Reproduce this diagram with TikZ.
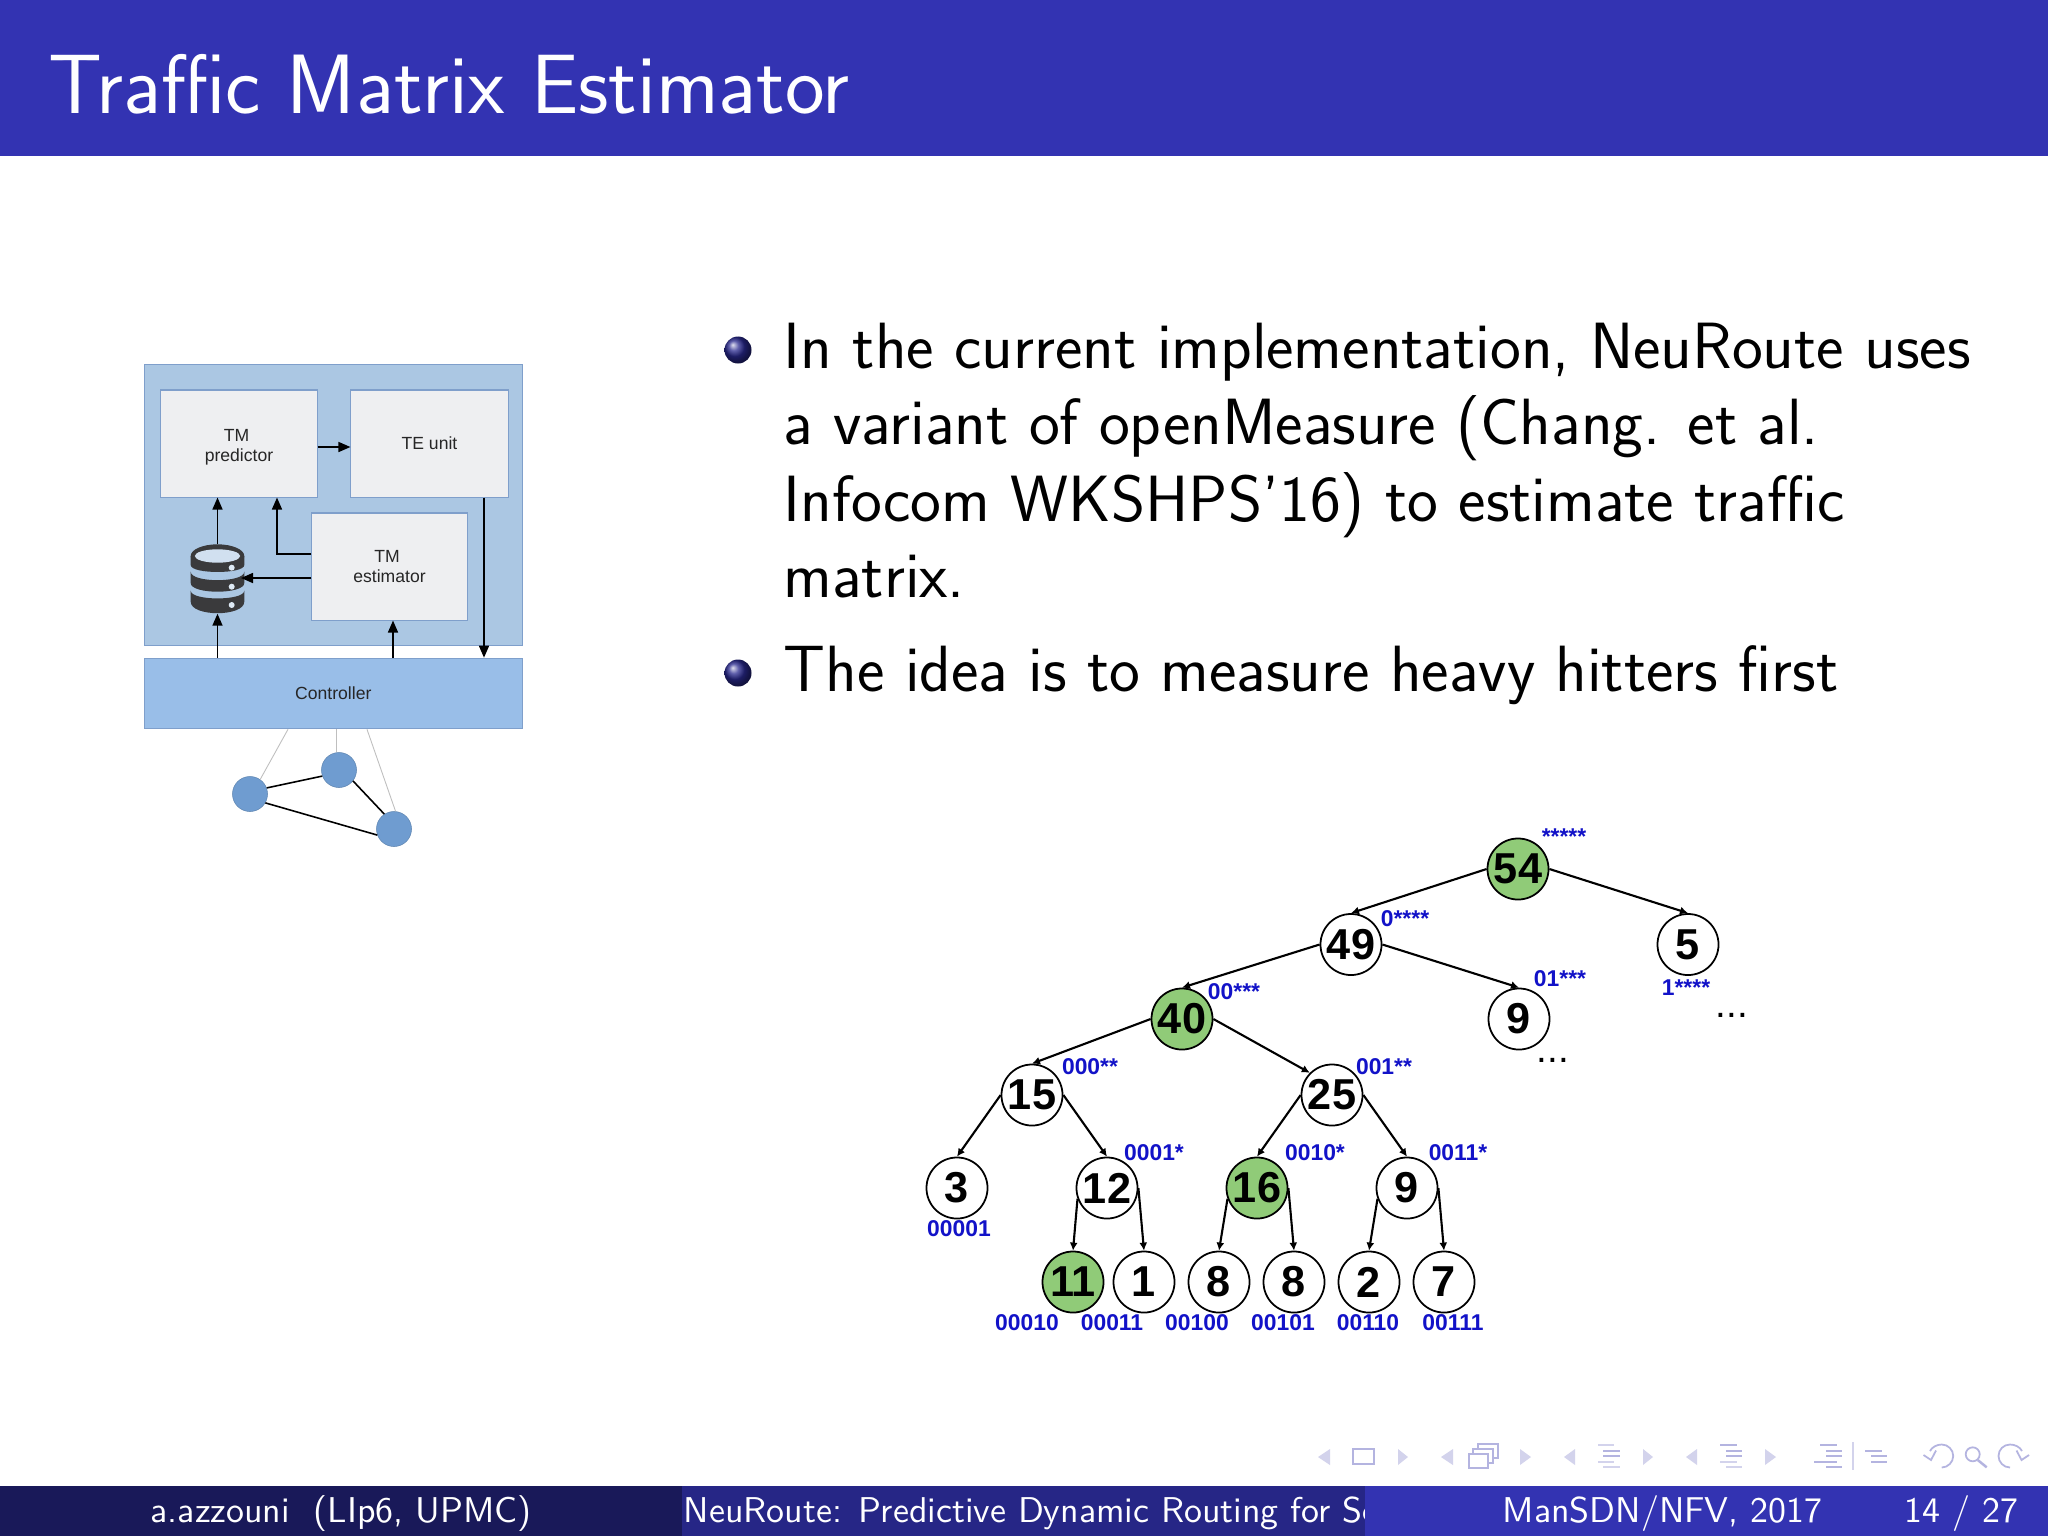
\documentclass[tikz,border=0pt]{standalone}
\usepackage{fontspec}
\usetikzlibrary{arrows.meta,shapes.geometric,calc}
\newfontfamily\arialfont{Liberation Sans}
\definecolor{bhead}{HTML}{3333B2}
\definecolor{bfootA}{HTML}{191959}
\definecolor{bfootB}{HTML}{262686}
\definecolor{outerfill}{HTML}{ABC7E3}
\definecolor{boxline}{HTML}{7F9FCB}
\definecolor{boxfill}{HTML}{EEEFF1}
\definecolor{ctrlfill}{HTML}{99BEE8}
\definecolor{netfill}{HTML}{6F9CD0}
\definecolor{dbdark}{HTML}{3A3A3C}
\definecolor{treegreen}{HTML}{90CB78}
\definecolor{labelblue}{HTML}{1212C8}
\definecolor{navlight}{HTML}{D3D3EC}
\definecolor{navdark}{HTML}{B4B4E0}
\newcommand{\lowered}[1]{\raisebox{-.08cm}[0pt][0pt]{\begin{tabular}{@{}c@{}}#1\end{tabular}}}
\tikzset{
  x=.01cm,y=-.01cm,
  sysbox/.style={draw=boxline,line width=.3pt,fill=boxfill,inner sep=0pt,align=center,font=\arialfont\fontsize{5}{5.7}\selectfont,text=black!85},
  sysarrow/.style={line width=.45pt,-{Triangle[length=.12cm,width=.1cm]}},
  netnode/.style={circle,fill=netfill,draw=netfill!85!black,line width=.15pt,minimum size=.35cm,inner sep=0pt},
  netlink/.style={line width=.45pt},
  ctrllink/.style={line width=.25pt,draw=black!25},
  treenode/.style={circle,draw=black,line width=.5pt,fill=white,minimum size=.61cm,inner sep=0pt,font=\arialfont\bfseries\fontsize{12.3}{13}\selectfont},
  hotnode/.style={treenode,fill=treegreen},
  treearrow/.style={line width=.6pt,-{Latex[length=.08cm,width=.08cm]}},
  blab/.style={inner sep=0pt,text=labelblue,font=\arialfont\bfseries\fontsize{6.5}{7}\selectfont},
  dotlab/.style={inner sep=0pt,font=\arialfont\fontsize{11}{11}\selectfont},
  bodyline/.style={anchor=base west,inner sep=0pt,font=\sffamily\fontsize{18.6}{22}\selectfont,text=black},
  foot/.style={anchor=base west,inner sep=0pt,text=white,font=\sffamily\fontsize{10.2}{12}\selectfont},
  bulletball/.style={circle,minimum size=.27cm,inner sep=0pt,shading=ball,ball color=bhead!80!black},
  navtri/.style={fill=navlight,draw=none},
  navline/.style={draw=navdark,line width=.45pt,fill=white},
  navarc/.style={draw=navdark,line width=.5pt},
}
\begin{document}
\begin{tikzpicture}
\useasboundingbox (0,0) rectangle (2048,1536);
\fill[white] (0,0) rectangle (2048,1536);
% header
\fill[bhead] (0,0) rectangle (2048,156);
\node[anchor=base west,inner sep=0pt,text=white,font=\sffamily\fontsize{23.95}{27}\selectfont] (title) at (48,113) {Traffic Matrix Estimator};
% footer
\fill[bfootA] (0,1486) rectangle (682,1536);
\fill[bfootB] (682,1486) rectangle (1365,1536);
\node[foot] (f1) at (150,1522) {a.azzouni\ \ (LIp6, UPMC)};
\node[foot] (f2) at (683,1522) {NeuRoute: Predictive Dynamic Routing for Software};
\fill[bhead] (1365,1486) rectangle (2048,1536);
\fill[white] (1365,1435) rectangle (2048,1486);
\node[foot] (f3) at (1502,1522) {ManSDN/NFV, 2017};
\node[foot] (f4) at (1904,1522) {14 / 27};
% body
\node[bulletball] (b1) at (738,350) {};
\node[bodyline] (l1) at (783,368) {In the current implementation, NeuRoute uses};
\node[bodyline] (l2) at (783,444) {a variant of openMeasure (Chang. et al.};
\node[bodyline] (l3) at (783,521) {Infocom WKSHPS'16) to estimate traffic};
\node[bodyline] (l4) at (783,597) {matrix.};
\node[bulletball] (b2) at (738,673) {};
\node[bodyline] (l5) at (783,691) {The idea is to measure heavy hitters first};
% system diagram
\node[draw=boxline,line width=.3pt,fill=outerfill,minimum width=3.78cm,minimum height=2.81cm,inner sep=0pt] (outer) at (333.3,505) {};
\node[sysbox,fill=ctrlfill,minimum width=3.78cm,minimum height=.705cm] (ctrl) at (333.3,693.5) {Controller};
\node[sysbox,minimum width=1.56cm,minimum height=1.07cm] (pred) at (239,443.5) {\lowered{TM\hspace*{.05cm}\\predictor}};
\node[sysbox,minimum width=1.57cm,minimum height=1.07cm] (te) at (429.5,443.5) {TE unit};
\node[sysbox,minimum width=1.55cm,minimum height=1.07cm] (est) at (389.5,566.5) {TM\hspace*{.05cm}\\estimator};
\node[inner sep=0pt,minimum width=.536cm,minimum height=.68cm] (db) at (217.5,579) {};
% database icon
\fill[dbdark] (217.5,556) ellipse[x radius=26.8,y radius=11.7];
\fill[dbdark] (190.7,556) -- (190.7,565) .. controls (190.7,574.3) and (244.3,574.3) .. (244.3,565) -- (244.3,556) -- cycle;
\fill[outerfill!55!white] (217.5,556) ellipse[x radius=22.7,y radius=6.7];
\fill[dbdark] (190.7,571.7) .. controls (190.7,583) and (244.3,583) .. (244.3,571.7) -- (244.3,583) .. controls (244.3,594.6) and (190.7,594.6) .. (190.7,583) -- cycle;
\fill[dbdark] (190.7,590.7) .. controls (190.7,601) and (244.3,601) .. (244.3,590.7) -- (244.3,601.7) .. controls (244.3,617) and (190.7,617) .. (190.7,601.7) -- cycle;
\fill[outerfill!40!white] (231.7,567.7) circle[radius=3] (231.7,586.7) circle[radius=3] (231.7,605) circle[radius=3];
% system arrows
\draw[sysarrow] (pred.east |- 0,447) -- (te.west |- 0,447);
\draw[sysarrow] (db.north) -- (pred.south -| db);
\draw[sysarrow] (est.west |- 0,554) -| (pred.south -| 277,0);
\draw[sysarrow,shorten >=-.04cm] (est.west |- 0,578) -- (db.east |- 0,578);
\draw[sysarrow] (ctrl.north -| db) -- (db.south);
\draw[sysarrow] (ctrl.north -| 393,0) -- (est.south -| 393,0);
\draw[sysarrow] (te.south -| 484,0) -- (ctrl.north -| 484,0);
% network
\node[netnode] (n1) at (250,794) {};
\node[netnode] (n2) at (339,770) {};
\node[netnode] (n3) at (394,829) {};
\draw[ctrllink] (ctrl.south -| 288,0) -- (n1.55);
\draw[ctrllink] (ctrl.south -| 336,0) -- (n2.north -| 336,0);
\draw[ctrllink] (ctrl.south -| 367,0) -- (n3.85);
\draw[netlink] (n1.20) -- (n2.200);
\draw[netlink] (n2.-38) -- (n3.123);
\draw[netlink] (n1.-30) -- (n3.200);
% tree
\node[hotnode] (t54) at (1518,869) {54};
\node[treenode] (t49) at (1351,944.5) {49};
\node[treenode] (t5) at (1688,944.5) {5};
\node[hotnode] (t40) at (1182,1019) {40};
\node[treenode] (t9a) at (1519,1019) {9};
\node[treenode] (t15) at (1032,1095) {15};
\node[treenode] (t25) at (1332,1095) {25};
\node[treenode] (t3) at (957,1188) {3};
\node[treenode] (t12) at (1107,1188) {12};
\node[hotnode] (t16) at (1257,1188) {16};
\node[treenode] (t9b) at (1407,1188) {9};
\node[hotnode] (t11) at (1073,1282) {11};
\node[treenode] (t1) at (1144,1282) {1};
\node[treenode] (t8a) at (1219,1282) {8};
\node[treenode] (t8b) at (1294,1282) {8};
\node[treenode] (t2) at (1369,1282) {2};
\node[treenode] (t7) at (1444,1282) {7};
\draw[treearrow] (t54.west) -- (t49.north);
\draw[treearrow] (t54.east) -- (t5.north);
\draw[treearrow] (t49.west) -- (t40.north);
\draw[treearrow] (t49.east) -- (t9a.north);
\draw[treearrow] (t40.west) -- (t15.north);
\draw[treearrow] (t40.east) -- (t25.135);
\draw[treearrow] (t15.west) -- (t3.north);
\draw[treearrow] (t15.east) -- (t12.north);
\draw[treearrow] (t25.west) -- (t16.north);
\draw[treearrow] (t25.east) -- (t9b.north);
\draw[treearrow] (t12.200) -- (t11.north);
\draw[treearrow] (t12.east) -- (t1.north);
\draw[treearrow] (t16.200) -- (t8a.north);
\draw[treearrow] (t16.east) -- (t8b.north);
\draw[treearrow] (t9b.200) -- (t2.north);
\draw[treearrow] (t9b.east) -- (t7.north);
% tree labels
\node[blab] (a1) at (1564,837) {*****};
\node[blab] (a2) at (1405,919) {0****};
\node[blab] (a3) at (1560,979) {01***};
\node[blab] (a4) at (1686,988) {1****};
\node[blab] (a5) at (1234,992) {00***};
\node[blab] (a6) at (1090,1067) {000**};
\node[blab] (a7) at (1384,1067) {001**};
\node[blab] (a8) at (1154,1153) {0001*};
\node[blab] (a9) at (1315,1153) {0010*};
\node[blab] (a10) at (1458,1153) {0011*};
\node[blab] (a11) at (959,1229) {00001};
\node[blab] (a12) at (1027,1323) {00010};
\node[blab] (a13) at (1112,1323) {00011};
\node[blab] (a14) at (1197,1323) {00100};
\node[blab] (a15) at (1283,1323) {00101};
\node[blab] (a16) at (1368,1323) {00110};
\node[blab] (a17) at (1453,1323) {00111};
\node[dotlab] (d1) at (1553,1060) {...};
\node[dotlab] (d2) at (1732,1015) {...};
% navigation symbols
\foreach \tipx/\basex in {1318/1330,1408/1398,1441/1453,1531/1520,1564/1575,1653/1643,1686/1697,1776/1765}{
  \fill[navtri] (\tipx,1457) -- (\basex,1449) -- (\basex,1465) -- cycle;
}
\draw[navline] (1353,1449) rectangle (1374,1464);
\draw[navline] (1478,1444) rectangle (1498,1458);
\draw[navline] (1473,1449) rectangle (1493,1463);
\draw[navline] (1469,1454) rectangle (1488,1468);
\foreach \xa/\xb/\yy/\cc in {1598/1614/1445/navlight,1603/1620/1451/navdark,1603/1620/1456/navdark,1598/1614/1462/navlight,1603/1620/1467/navlight,
  1720/1737/1445/navdark,1726/1742/1451/navdark,1726/1742/1456/navdark,1720/1737/1462/navlight,1726/1742/1467/navlight,
  1820/1837/1445/navdark,1826/1842/1451/navdark,1826/1842/1456/navdark,1814/1837/1462/navdark,1826/1842/1467/navdark,
  1865/1882/1451/navdark,1871/1887/1456/navdark,1871/1887/1462/navdark}{
  \fill[\cc] (\xa,\yy-1.4) rectangle (\xb,\yy+1.4);
}
\draw[navlight,line width=.45pt] (1853,1442) -- (1853,1470);
\draw[navarc] (1930,1451) .. controls (1932,1447) and (1937,1444.5) .. (1941.7,1444.5) .. controls (1948,1444.5) and (1953.2,1449.6) .. (1953.2,1456) .. controls (1953.2,1462) and (1948,1467.5) .. (1941.7,1467.5);
\draw[navarc] (1923.5,1455) -- (1931,1460) -- (1936,1450.5);
\draw[navarc] (1972.7,1454.3) circle[radius=7];
\draw[navarc,line width=.7pt] (1977.7,1460) -- (1986.7,1467.3);
\draw[navarc] (2022,1451) .. controls (2020,1447) and (2015,1444.5) .. (2010,1444.5) .. controls (2003.5,1444.5) and (1998.5,1449.6) .. (1998.5,1456) .. controls (1998.5,1462) and (2003.5,1467.5) .. (2010,1467.5);
\draw[navarc] (2029,1455) -- (2021.5,1460) -- (2016.5,1450.5);
\end{tikzpicture}
\end{document}
